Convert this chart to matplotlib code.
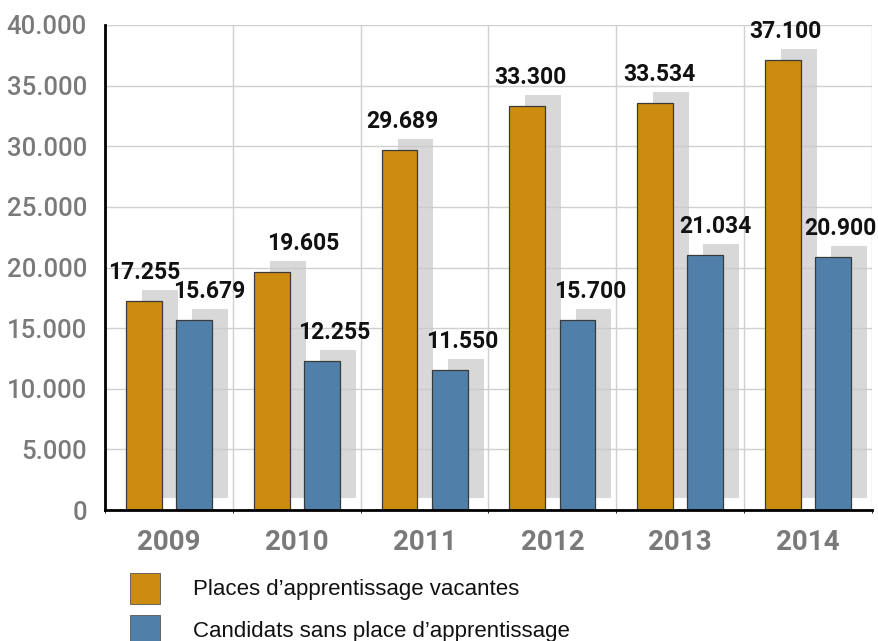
import matplotlib
matplotlib.use('Agg')
import numpy as np
from matplotlib import pyplot as plt
from matplotlib.patches import Rectangle

years = ['2009', '2010', '2011', '2012', '2013', '2014']
vacantes = [17255, 19605, 29689, 33300, 33534, 37100]
candidats = [15679, 12255, 11550, 15700, 21034, 20900]
labels_vac = ['17.255', '19.605', '29.689', '33.300', '33.534', '37.100']
labels_cand = ['15.679', '12.255', '11.550', '15.700', '21.034', '20.900']
yticks = [0, 5000, 10000, 15000, 20000, 25000, 30000, 35000, 40000]
ytick_labels = ['0', '5.000', '10.000', '15.000', '20.000', '25.000', '30.000', '35.000', '40.000']
legend_labels = ['Places d\u2019apprentissage vacantes', 'Candidats sans place d\u2019apprentissage']

orange = '#cc8c10'
blue = '#5080aa'
shadow = '#c8c8c8'

fig = plt.figure(figsize=(8.79, 6.41), dpi=100)
ax = fig.add_axes([105 / 879, 1 - 510 / 641, 767 / 879, 485 / 641])

x = np.arange(len(years))
w = 0.28
off = 0.196
sx, sy = 0.125, 900  # shadow shift

# shadows
ax.bar(x - off + sx, np.array(vacantes) + sy - 1000, w, bottom=1000,
       color=shadow, alpha=0.7, zorder=2, linewidth=0)
ax.bar(x + off + sx, np.array(candidats) + sy - 1000, w, bottom=1000,
       color=shadow, alpha=0.7, zorder=2, linewidth=0)

ax.bar(x - off, vacantes, w, color=orange, edgecolor='#3a3a3a', linewidth=0.9, zorder=3)
ax.bar(x + off, candidats, w, color=blue, edgecolor='#3a3a3a', linewidth=0.9, zorder=3)

vfont = dict(family=['Roboto', 'DejaVu Sans'], fontsize=16.5, fontweight='bold',
             color='#111111', ha='center', va='bottom', zorder=5)
nudge_v = [0, 0.25, 0.02, 0.02, 0.03, 0.02]
nudge_c = [0.12, 0.1, 0.1, 0.1, 0.08, 0.06]
for i in range(len(years)):
    ax.text(x[i] - off + nudge_v[i], vacantes[i] + sy + 500, labels_vac[i], **vfont)
    ax.text(x[i] + off + nudge_c[i], candidats[i] + sy + 500, labels_cand[i], **vfont)

ax.set_xlim(-0.5, 5.5)
ax.set_ylim(0, 40000)
ax.set_yticks(yticks)
ax.set_yticklabels(ytick_labels, family=['Roboto', 'DejaVu Sans'], fontsize=18.5,
                   fontweight='medium', color='#7a7a7a')
ax.set_xticks(x)
ax.set_xticklabels(years, family=['Roboto', 'DejaVu Sans'], fontsize=20,
                   fontweight='bold', color='#7a7a7a')
ax.tick_params(axis='both', length=0)
ax.tick_params(axis='y', pad=13)
ax.tick_params(axis='x', pad=14)

ax.set_xticks(np.arange(-0.5, 5.6, 0.5), minor=True)
ax.grid(which='minor', axis='x', color='#d0d0d0', linewidth=1, zorder=0)
ax.grid(which='major', axis='y', color='#d0d0d0', linewidth=1, zorder=0)
ax.set_axisbelow(True)

for s in ['top', 'right']:
    ax.spines[s].set_visible(False)
ax.spines['left'].set_linewidth(2)
ax.spines['bottom'].set_linewidth(2)
ax.spines['left'].set_zorder(6)
ax.spines['bottom'].set_zorder(6)

# legend
for i, (c, lab) in enumerate(zip([orange, blue], legend_labels)):
    ytop = 573 + i * 42
    fig.patches.append(Rectangle((130 / 879, 1 - (ytop + 31) / 641), 30 / 879, 31 / 641,
                                 transform=fig.transFigure, facecolor=c,
                                 edgecolor='#555555', linewidth=0.6))
    fig.text(193 / 879, 1 - (ytop + 16) / 641, lab, family=['Liberation Sans', 'DejaVu Sans'],
             fontsize=16, color='#111111', va='center', ha='left')

fig.savefig('out.png', dpi=100)
